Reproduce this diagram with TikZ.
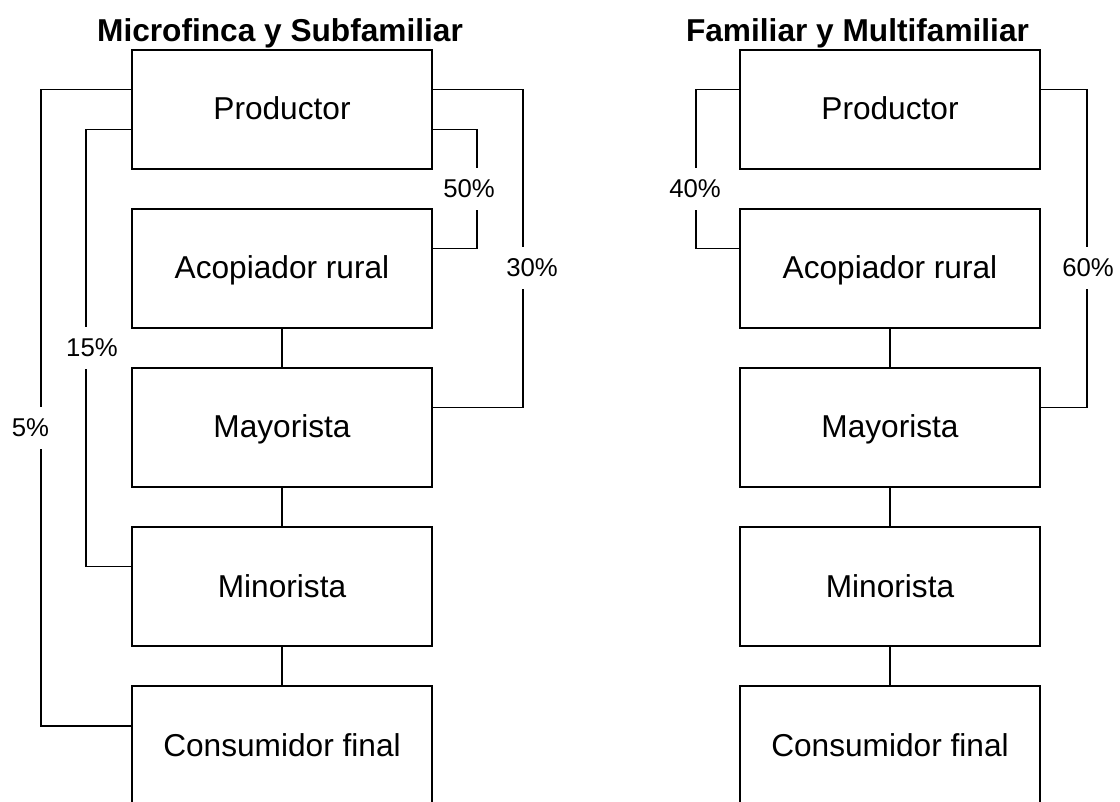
\documentclass[tikz,border=0pt]{standalone}
\usepackage{fontspec}
\setmainfont{Liberation Sans}
\usetikzlibrary{positioning}

\begin{document}
\begin{tikzpicture}[x=0.025cm,y=-0.025cm,node distance=3.975cm,on grid,
  box/.style={draw,line width=1.2pt,minimum width=7.5cm,minimum height=2.975cm,
    text height=16.2pt,text depth=1.4pt,font=\fontsize{22.5}{27}\selectfont},
  pct/.style={fill=white,inner sep=0pt,minimum height=1.07cm,
    font=\fontsize{18.3}{22}\selectfont},
  ttl/.style={anchor=base,font=\fontsize{22.5}{27}\selectfont\bfseries}]
  \clip (0,0) rectangle (1120,802);
  % Microfinca y Subfamiliar
  \node[ttl]            (T1) at (280,42)         {Microfinca y Subfamiliar};
  \node[box]            (P1) at (282,109.5)      {Productor};
  \node[box]            (A1) [below =of P1]      {Acopiador rural};
  \node[box]            (M1) [below =of A1]      {Mayorista};
  \node[box]            (N1) [below =of M1]      {Minorista};
  \node[box]            (C1) [below =of N1]      {Consumidor final};
  % Familiar y Multifamiliar
  \node[ttl]            (T2) at (857.5,42)       {Familiar y Multifamiliar};
  \node[box]            (P2) at (890,109.5)      {Productor};
  \node[box]            (A2) [below =of P2]      {Acopiador rural};
  \node[box]            (M2) [below =of A2]      {Mayorista};
  \node[box]            (N2) [below =of M2]      {Minorista};
  \node[box]            (C2) [below =of N2]      {Consumidor final};
  \coordinate (c5)  at (41,428);
  \coordinate (c15) at (86,348);
  \coordinate (c50) at (477,190);
  \coordinate (c30) at (523,268);
  \coordinate (c40) at (696,189);
  \coordinate (c60) at (1087,268);
\tikzset{mystyle/.style={line width=1.2pt}}
\path (A1)    edge [mystyle]   (M1)
      (M1)    edge [mystyle]   (N1)
      (N1)    edge [mystyle]   (C1)
      (A2)    edge [mystyle]   (M2)
      (M2)    edge [mystyle]   (N2)
      (N2)    edge [mystyle]   (C2);
\draw [mystyle] ([yshift=.5cm]P1.west) -| (c5) |- ([yshift=.5cm]C1.west);
\draw [mystyle] ([yshift=-.5cm]P1.west) -| (c15) |- ([yshift=.5cm]N1.west);
\draw [mystyle] ([yshift=-.5cm]P1.east) -| (c50) |- ([yshift=.5cm]A1.east);
\draw [mystyle] ([yshift=.5cm]P1.east) -| (c30) |- ([yshift=.5cm]M1.east);
\draw [mystyle] ([yshift=.5cm]P2.west) -| (c40) |- ([yshift=.5cm]A2.west);
\draw [mystyle] ([yshift=.5cm]P2.east) -| (c60) |- ([yshift=.5cm]M2.east);
  \node[pct]            (L5)  at (30.5,428)      {5\%};
  \node[pct]            (L15) at (92,348)        {15\%};
  \node[pct]            (L50) at (469,189)       {50\%};
  \node[pct]            (L30) at (532,268)       {30\%};
  \node[pct]            (L40) at (695,189)       {40\%};
  \node[pct]            (L60) at (1088,268)      {60\%};
\end{tikzpicture}
\end{document}
